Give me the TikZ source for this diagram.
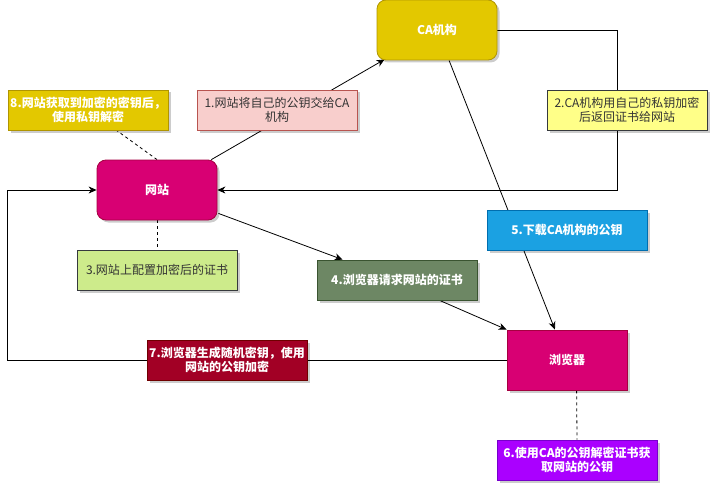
\documentclass[tikz,border=0pt]{standalone}
\usepackage{fontspec}
\setmainfont{Noto Sans CJK SC}
\usetikzlibrary{arrows.meta,shadows,calc}
\definecolor{caY}{HTML}{E3C800}\definecolor{caYs}{HTML}{B09500}
\definecolor{mag}{HTML}{D80073}\definecolor{mags}{HTML}{A50040}
\definecolor{pinkF}{HTML}{F8CECC}\definecolor{pinkS}{HTML}{B85450}
\definecolor{lyF}{HTML}{FFFF88}\definecolor{grS}{HTML}{36393D}
\definecolor{lgF}{HTML}{CDEB8B}
\definecolor{olF}{HTML}{6D8764}\definecolor{olS}{HTML}{3A5431}
\definecolor{blF}{HTML}{1BA1E2}\definecolor{blS}{HTML}{006EAF}
\definecolor{puF}{HTML}{AA00FF}\definecolor{puS}{HTML}{7700CC}
\definecolor{reF}{HTML}{A20025}\definecolor{reS}{HTML}{6F0000}
\definecolor{txt}{HTML}{333333}
\pgfdeclarelayer{bg}
\pgfsetlayers{bg,main}
\tikzset{
  base/.style={draw, line width=0.8pt, inner sep=0pt, align=center,
    font=\fontsize{12}{14}\selectfont,
    drop shadow={shadow xshift=2.5pt, shadow yshift=-2.5pt, opacity=0.2, fill=black}},
  actor/.style={base, minimum width=120pt, minimum height=60pt, fill=mag, draw=mags,
    text=white, font=\fontsize{12}{14}\selectfont\bfseries},
  lbl/.style={base, minimum width=160pt, minimum height=40pt},
  conn/.style={line width=0.8pt, -{Stealth[length=8pt,width=7pt,inset=2.5pt]}},
  dconn/.style={line width=0.8pt, dashed, dash pattern=on 3pt off 3pt}
}
\begin{document}
\begin{tikzpicture}[x=1pt,y=-1pt]
\useasboundingbox (0,0) rectangle (719,492);
% main entities
\node[actor, rounded corners=9pt, fill=caY, draw=caYs] (ca) at (437,30) {CA机构};
\node[actor, rounded corners=9pt] (web) at (157,190) {网站};
\node[actor] (br) at (567,360) {浏览器};
% labels
\node[lbl, fill=caY, draw=caYs, text=white, font=\fontsize{12}{14}\selectfont\bfseries] (l8) at (88,110) {8.网站获取到加密的密钥后，\\使用私钥解密};
\node[lbl, fill=pinkF, draw=pinkS, text=txt] (l1) at (277,110) {1.网站将自己的公钥交给CA\\机构};
\node[lbl, fill=lyF, draw=grS, text=txt] (l2) at (627,110) {2.CA机构用自己的私钥加密\\后返回证书给网站};
\node[lbl, fill=blF, draw=blS, text=white, font=\fontsize{12}{14}\selectfont\bfseries] (l5) at (567,230) {5.下载CA机构的公钥};
\node[lbl, fill=lgF, draw=grS, text=txt] (l3) at (157,270) {3.网站上配置加密后的证书};
\node[lbl, fill=olF, draw=olS, text=white, font=\fontsize{12}{14}\selectfont\bfseries] (l4) at (397,280) {4.浏览器请求网站的证书};
\node[lbl, fill=reF, draw=reS, text=white, font=\fontsize{12}{14}\selectfont\bfseries] (l7) at (227,360) {7.浏览器生成随机密钥，使用\\网站的公钥加密};
\node[lbl, fill=puF, draw=puS, text=white, font=\fontsize{12}{14}\selectfont\bfseries] (l6) at (577,460) {6.使用CA的公钥解密证书获\\取网站的公钥};
% connectors
\coordinate (cr) at (617,30);
\coordinate (cd) at (617,190);
\coordinate (bl) at (7,360);
\coordinate (bu) at (7,190);
\begin{pgfonlayer}{bg}
\draw[conn] ($(web.north west)!0.95!(web.north east)$) -- ($(ca.south west)+(8,-1)$);
\draw[conn] (ca.east) -- (cr) -- (cd) -- (web.east);
\draw[conn] ($(web.south east)+(1,-7)$) -- ($(l4.north west)+(26,0)$);
\draw[conn] ($(l4.south west)+(123,0)$) -- (br.north west);
\draw[conn] ($(ca.south west)!0.6!(ca.south east)$) -- ($(br.north west)!0.4!(br.north east)$);
\draw[conn] (br.west) -- (bl) -- (bu) -- (web.west);
\draw[dconn] (web.north) -- ($(l8.south west)+(109,0)$);
\draw[dconn] (web.south) -- (l3.north);
\draw[dconn] ($(br.south west)+(70,0)$) -- (l6.north);
\end{pgfonlayer}
\end{tikzpicture}
\end{document}
